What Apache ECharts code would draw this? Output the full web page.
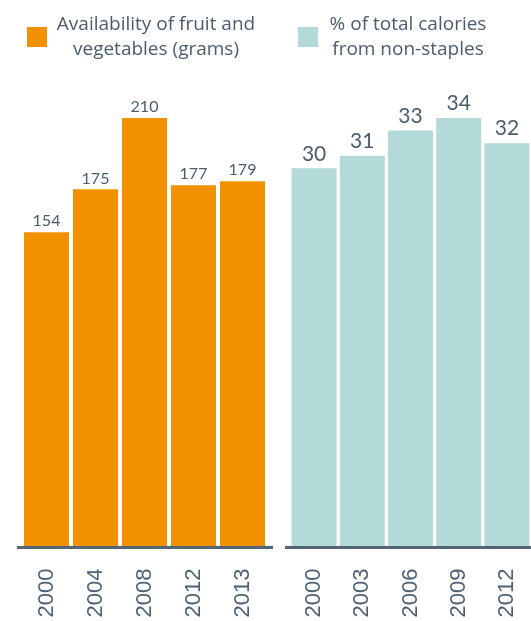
<!DOCTYPE html>
<html>
<head>
<meta charset="utf-8">
<script src="https://cdn.jsdelivr.net/npm/echarts@6/dist/echarts.min.js"></script>
<style>
  html, body { margin: 0; padding: 0; background: #ffffff; }
  #chart { width: 531px; height: 621px; }
</style>
</head>
<body>
<div id="chart"></div>
<script>
// Availability of fruit and vegetables (grams per day)
const fruitYears = ['2000', '2004', '2008', '2012', '2013'];
const fruitGrams = [154, 175, 210, 177, 179];

// Share of total calories coming from non-staple foods (%)
const calorieYears = ['2000', '2003', '2006', '2009', '2012'];
const nonStapleShare = [30, 31, 33, 34, 32];

const seriesNames = ['Availability of fruit and\nvegetables (grams)', '% of total calories\nfrom non-staples'];

// Layout
const BASE_Y = 546;          // bottom of both plotting areas
const PLOT_H = 440;
const LEFT_GRID = { left: 22, width: 245 };
const RIGHT_GRID = { left: 290, width: 245 };
const LEFT_MAX = 215.9;
const RIGHT_MAX = 34.95;
const AXIS_OVERHANG = 5;

const ORANGE = '#f29100';
const TEAL = '#b3d9d9';
const INK = '#4b5c6d';
const AXIS = '#526476';

const chart = echarts.init(document.getElementById('chart'), null, { renderer: 'canvas' });

const yearLabel = {
  rotate: 90,
  align: 'center',
  verticalAlign: 'middle',
  margin: 47,
  color: '#4f6275',
  fontFamily: 'Liberation Sans',
  fontSize: 22
};

function legendFor(name, left, boxWidth) {
  return {
    data: [name],
    left: left,
    top: 15,
    padding: 0,
    orient: 'horizontal',
    itemWidth: 20,
    itemHeight: 20,
    icon: 'rect',
    itemGap: 0,
    selectedMode: false,
    formatter: n => n.split('\n').map(s => '{t|' + s + '}').join('\n'),
    textStyle: {
      rich: {
        t: {
          width: boxWidth,
          align: 'center',
          fontFamily: 'Open Sans',
          fontSize: 19,
          lineHeight: 25,
          color: INK
        }
      }
    }
  };
}

const option = {
  animation: false,
  legend: [
    legendFor(seriesNames[0], 27, 208),
    legendFor(seriesNames[1], 298, 170)
  ],
  grid: [
    { left: LEFT_GRID.left, width: LEFT_GRID.width, top: BASE_Y - PLOT_H, height: PLOT_H },
    { left: RIGHT_GRID.left, width: RIGHT_GRID.width, top: BASE_Y - PLOT_H, height: PLOT_H }
  ],
  xAxis: [
    {
      type: 'category', gridIndex: 0, data: fruitYears,
      axisLine: { show: false }, axisTick: { show: false },
      axisLabel: yearLabel
    },
    {
      type: 'category', gridIndex: 1, data: calorieYears,
      axisLine: { show: false }, axisTick: { show: false },
      axisLabel: yearLabel
    }
  ],
  yAxis: [
    { type: 'value', gridIndex: 0, min: 0, max: LEFT_MAX, show: false, splitLine: { show: false } },
    { type: 'value', gridIndex: 1, min: 0, max: RIGHT_MAX, show: false, splitLine: { show: false } }
  ],
  series: [
    {
      name: seriesNames[0],
      type: 'bar',
      xAxisIndex: 0, yAxisIndex: 0,
      data: fruitGrams,
      barWidth: 45,
      itemStyle: { color: ORANGE },
      label: {
        show: true, position: 'top', distance: 3,
        color: INK, fontFamily: 'Lato', fontSize: 16
      }
    },
    {
      name: seriesNames[1],
      type: 'bar',
      xAxisIndex: 1, yAxisIndex: 1,
      data: nonStapleShare,
      barWidth: 45,
      itemStyle: { color: TEAL },
      label: {
        show: true, position: 'top', distance: 4,
        color: INK, fontFamily: 'Lato', fontSize: 21
      }
    }
  ],
  // Baselines under each panel, slightly wider than the bar area
  graphic: [
    {
      type: 'line', z: 10,
      shape: { x1: LEFT_GRID.left - AXIS_OVERHANG, y1: BASE_Y + 1.5, x2: LEFT_GRID.left + LEFT_GRID.width + AXIS_OVERHANG + 1, y2: BASE_Y + 1.5 },
      style: { stroke: AXIS, lineWidth: 3 }
    },
    {
      type: 'line', z: 10,
      shape: { x1: RIGHT_GRID.left - AXIS_OVERHANG, y1: BASE_Y + 1.5, x2: RIGHT_GRID.left + RIGHT_GRID.width + AXIS_OVERHANG, y2: BASE_Y + 1.5 },
      style: { stroke: AXIS, lineWidth: 3 }
    }
  ]
};

chart.setOption(option);
</script>
</body>
</html>
